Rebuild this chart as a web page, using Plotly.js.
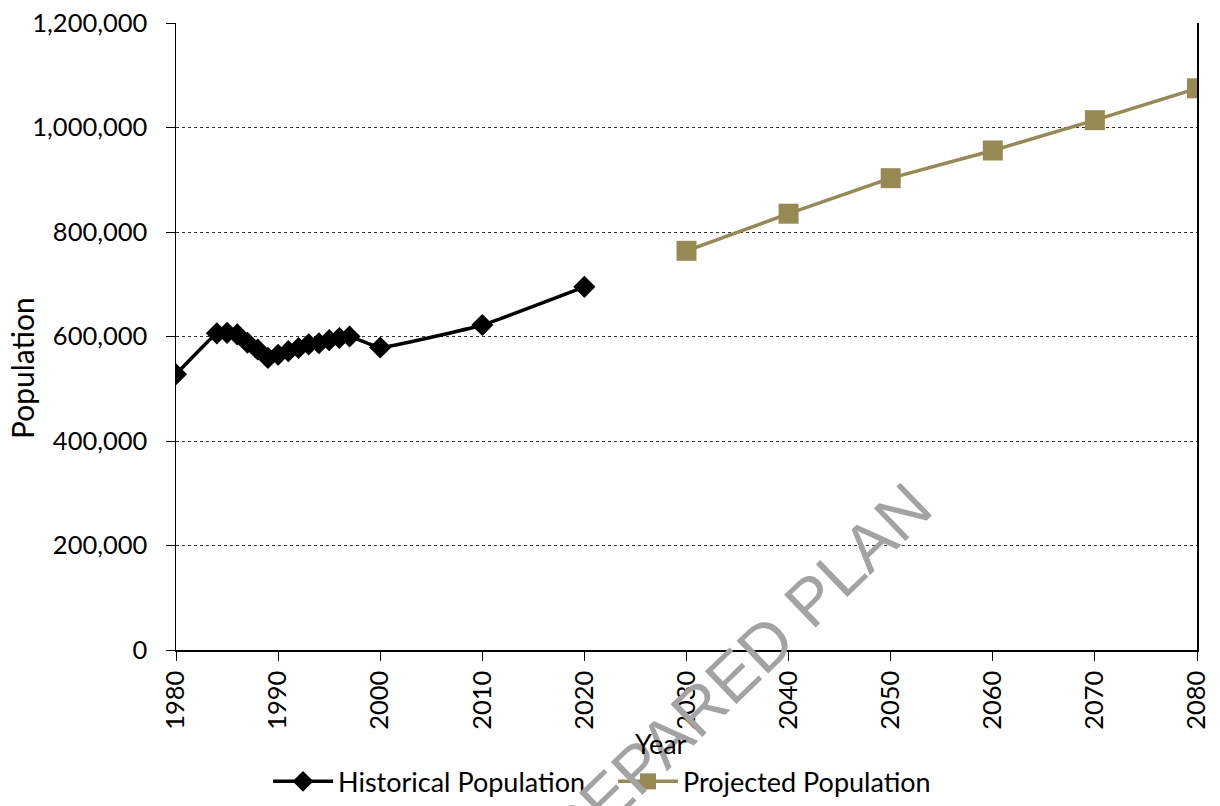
<!DOCTYPE html>
<html>
<head>
<meta charset="utf-8">
<script src="https://cdn.plot.ly/plotly-3.0.1.min.js"></script>
<style>html,body{margin:0;padding:0;background:#fff;}#chart{width:1220px;height:806px;}</style>
</head>
<body>
<div id="chart"></div>
<script>
const histYears = [1980, 1984, 1985, 1986, 1987, 1988, 1989, 1990, 1991, 1992, 1993, 1994, 1995, 1996, 1997, 2000, 2010, 2020];
const histPop = [527700, 606000, 607000, 604000, 588000, 575000, 559000, 565000, 572000, 578000, 585000, 587000, 593000, 597000, 600000, 579000, 622000, 695000];
const projYears = [2030, 2040, 2050, 2060, 2070, 2080];
const projPop = [764000, 835000, 903000, 956000, 1014000, 1075000];
const seriesNames = ["Historical Population", "Projected Population"];
const xTicks = [1980, 1990, 2000, 2010, 2020, 2030, 2040, 2050, 2060, 2070, 2080];
const yTicks = [0, 200000, 400000, 600000, 800000, 1000000, 1200000];

const FONT = "Lato, 'Open Sans', sans-serif";
const traces = [
  {x: histYears, y: histPop, name: seriesNames[0], type: 'scatter', mode: 'lines+markers',
   line: {color: '#000000', width: 3.5, shape: 'spline', smoothing: 0.3},
   marker: {symbol: 'diamond', size: 17, color: '#000000'}},
  {x: projYears, y: projPop, name: seriesNames[1], type: 'scatter', mode: 'lines+markers',
   line: {color: '#968A52', width: 3.5},
   marker: {symbol: 'square', size: 20, color: '#968A52'}}
];
const layout = {
  width: 1220, height: 806,
  margin: {l: 176, r: 23, t: 23, b: 156},
  paper_bgcolor: '#fff', plot_bgcolor: '#fff',
  font: {family: FONT, size: 25.5, color: '#000'},
  showlegend: true,
  legend: {orientation: 'h', xref: 'container', yref: 'container', x: 268 / 1220, xanchor: 'left', y: 0.03, yanchor: 'middle',
           font: {family: FONT, size: 27, color: '#000'}, itemwidth: 60, entrywidth: 270, entrywidthmode: 'pixels', tracegroupgap: 0},
  xaxis: {range: [1980, 2080], tickvals: xTicks, ticktext: xTicks.map(String), tickangle: -90,
          ticks: 'outside', ticklen: 9, tickcolor: '#000', showgrid: false, zeroline: false,
          showline: true, linecolor: '#000', linewidth: 1.5, tickfont: {family: FONT, size: 25.5}},
  yaxis: {range: [0, 1200000], tickvals: yTicks, ticktext: yTicks.map(v => v.toLocaleString('en-US')),
          ticks: 'outside', ticklen: 9, tickcolor: '#000', showgrid: true, gridcolor: '#333', griddash: 'dot', gridwidth: 1,
          zeroline: false, showline: true, mirror: true, linecolor: '#000', linewidth: 1.5,
          ticklabelstandoff: 13, tickfont: {family: FONT, size: 25.5}},
  annotations: [
    {text: 'PREPARED PLAN', xref: 'paper', yref: 'paper', x: (722 - 176) / 1021, y: (650 - 686) / 627, xanchor: 'center', yanchor: 'middle',
     textangle: -44, showarrow: false, font: {family: "'Liberation Sans', Arial, sans-serif", size: 66, color: '#a3a3a3'}},
    {text: 'Year', xref: 'paper', yref: 'paper', x: (661 - 176) / 1021, y: -(743 - 650) / 627, xanchor: 'center', yanchor: 'middle',
     showarrow: false, font: {family: FONT, size: 27, color: '#000'}},
    {text: 'Population', xref: 'paper', yref: 'paper', x: (22 - 176) / 1021, y: (650 - 368) / 627, xanchor: 'center', yanchor: 'middle',
     textangle: -90, showarrow: false, font: {family: FONT, size: 30, color: '#000'}}
  ]
};
Plotly.newPlot('chart', traces, layout, {staticPlot: true, displayModeBar: false});
</script>
</body>
</html>
